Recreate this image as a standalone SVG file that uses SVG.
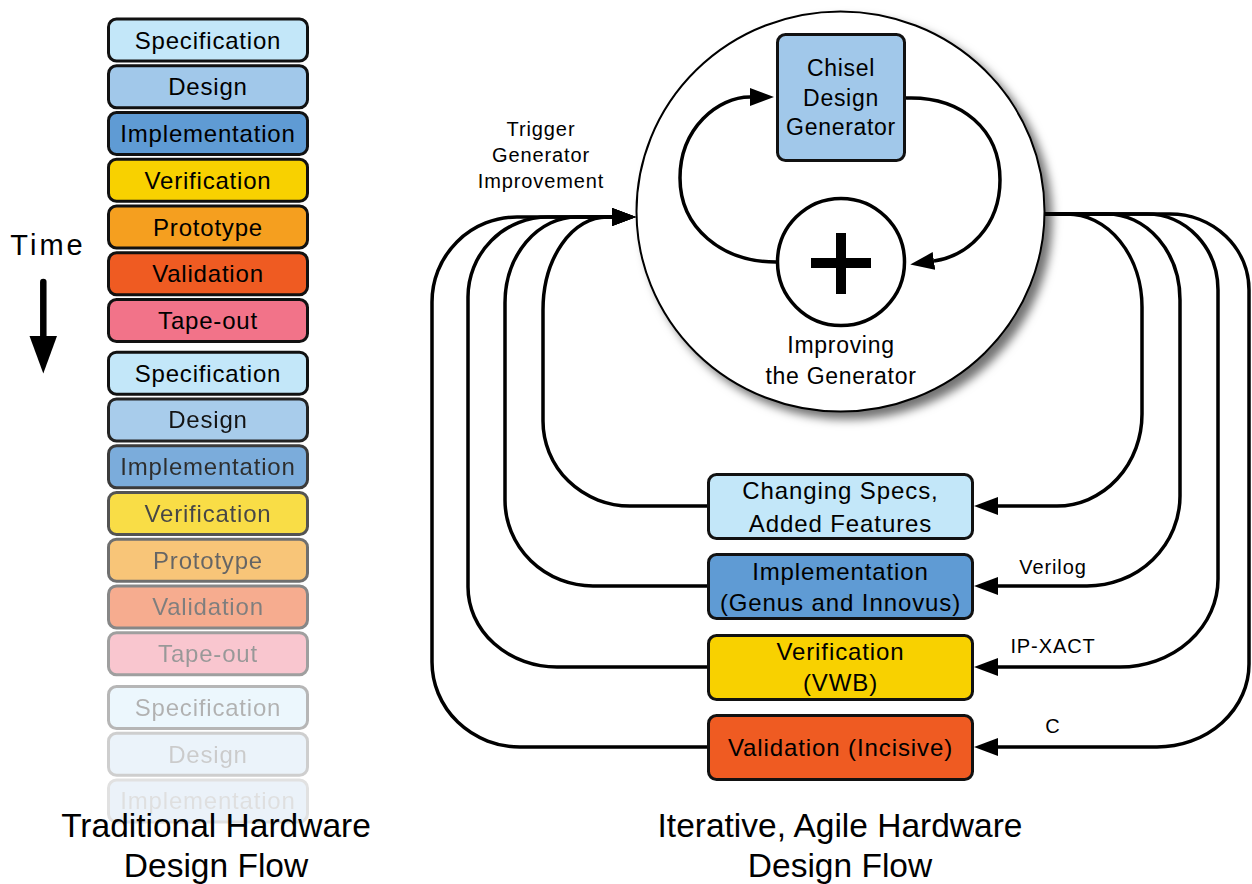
<svg xmlns="http://www.w3.org/2000/svg" width="1252" height="884" viewBox="0 0 1252 884">
<defs>
<style>
text{font-family:"Liberation Sans",Arial,Helvetica,sans-serif;fill:#000;text-anchor:middle}
.st text{font-size:24px;letter-spacing:0.8px}
.st rect{stroke:#111;stroke-width:3}
.box{stroke:#111;stroke-width:3}
.bt{font-size:24px;letter-spacing:0.9px}
.ct{font-size:23px;letter-spacing:0.7px}
.lb{font-size:20px;letter-spacing:0.9px}
.title{font-size:33.5px}
.conn{fill:none;stroke:#000;stroke-width:3.5}
.spec{fill:#c3e7f9}.des{fill:#a1c8ea}.impl{fill:#5f9bd4}.ver{fill:#f8d100}.pro{fill:#f59f1f}.val{fill:#ef5b22}.tape{fill:#f27389}
</style>
<marker id="ah" viewBox="0 0 24 18" refX="0" refY="9" markerWidth="24" markerHeight="18" markerUnits="userSpaceOnUse" orient="auto">
<path d="M0,0 L24,9 L0,18 z" fill="#000"/>
</marker>
<filter id="sh" x="-10%" y="-10%" width="125%" height="125%">
<feDropShadow dx="7" dy="7" stdDeviation="5" flood-color="#000" flood-opacity="0.55"/>
</filter>
</defs>
<rect width="1252" height="884" fill="#fff"/>

<!-- Traditional stack -->
<g id="traditional-stack" class="st">
<g id="s1-spec"><rect class="spec" x="108.5" y="19" width="199" height="42" rx="8"/><text x="208" y="48.5">Specification</text></g>
<g id="s1-design"><rect class="des" x="108.5" y="65.75" width="199" height="42" rx="8"/><text x="208" y="95.25">Design</text></g>
<g id="s1-impl"><rect class="impl" x="108.5" y="112.5" width="199" height="42" rx="8"/><text x="208" y="142">Implementation</text></g>
<g id="s1-ver"><rect class="ver" x="108.5" y="159.25" width="199" height="42" rx="8"/><text x="208" y="188.75">Verification</text></g>
<g id="s1-proto"><rect class="pro" x="108.5" y="206" width="199" height="42" rx="8"/><text x="208" y="235.5">Prototype</text></g>
<g id="s1-val"><rect class="val" x="108.5" y="252.75" width="199" height="42" rx="8"/><text x="208" y="282.25">Validation</text></g>
<g id="s1-tape"><rect class="tape" x="108.5" y="299.5" width="199" height="42" rx="8"/><text x="208" y="329">Tape-out</text></g>

<g id="s2-spec"><rect class="spec" x="108.5" y="352.2" width="199" height="42" rx="8"/><text x="208" y="381.7">Specification</text></g>
<g id="s2-design" opacity="0.92"><rect class="des" x="108.5" y="398.95" width="199" height="42" rx="8"/><text x="208" y="428.45">Design</text></g>
<g id="s2-impl" opacity="0.82"><rect class="impl" x="108.5" y="445.7" width="199" height="42" rx="8"/><text x="208" y="475.2">Implementation</text></g>
<g id="s2-ver" opacity="0.72"><rect class="ver" x="108.5" y="492.45" width="199" height="42" rx="8"/><text x="208" y="521.95">Verification</text></g>
<g id="s2-proto" opacity="0.6"><rect class="pro" x="108.5" y="539.2" width="199" height="42" rx="8"/><text x="208" y="568.7">Prototype</text></g>
<g id="s2-val" opacity="0.5"><rect class="val" x="108.5" y="585.95" width="199" height="42" rx="8"/><text x="208" y="615.45">Validation</text></g>
<g id="s2-tape" opacity="0.4"><rect class="tape" x="108.5" y="632.7" width="199" height="42" rx="8"/><text x="208" y="662.2">Tape-out</text></g>

<g id="s3-spec" opacity="0.3"><rect class="spec" x="108.5" y="686.5" width="199" height="42" rx="8"/><text x="208" y="716">Specification</text></g>
<g id="s3-design" opacity="0.2"><rect class="des" x="108.5" y="733.25" width="199" height="42" rx="8"/><text x="208" y="762.75">Design</text></g>
<g id="s3-impl" opacity="0.12"><rect class="impl" x="108.5" y="780" width="199" height="42" rx="8"/><text x="208" y="808.5">Implementation</text></g>
</g>

<!-- Time arrow -->
<g id="time">
<text x="48" y="255" style="font-size:29px;letter-spacing:3px">Time</text>
<line x1="43.3" y1="282" x2="43.3" y2="340" stroke="#000" stroke-width="6.5" stroke-linecap="round"/>
<path d="M29.5,336 L57,336 L43.3,373.5 z" fill="#000"/>
</g>

<g id="title-left">
<text class="title" x="216" y="837">Traditional Hardware</text>
<text class="title" x="216" y="877">Design Flow</text>
</g>

<!-- Big circle -->
<g id="generator-circle">
<ellipse cx="840.5" cy="211.5" rx="204" ry="200" fill="#fff" stroke="#000" stroke-width="2" filter="url(#sh)"/>
<text class="ct" x="841" y="353">Improving</text>
<text class="ct" x="841" y="383.5">the Generator</text>
</g>

<g id="chisel">
<rect class="box des" x="777.5" y="34.5" width="127" height="126" rx="8"/>
<text class="ct" x="841" y="76">Chisel</text>
<text class="ct" x="841" y="106">Design</text>
<text class="ct" x="841" y="135">Generator</text>
</g>

<g id="plus">
<circle cx="841" cy="262" r="63.5" fill="#fff" stroke="#000" stroke-width="3.5"/>
<rect x="811" y="258" width="60" height="10" fill="#000"/>
<rect x="836" y="233" width="10" height="61" fill="#000"/>
</g>

<g id="trigger-label">
<text class="lb" x="541" y="136">Trigger</text>
<text class="lb" x="541" y="162">Generator</text>
<text class="lb" x="541" y="188">Improvement</text>
</g>

<!-- Right-side nodes -->
<g id="node-specs">
<rect class="box spec" x="708.5" y="474.5" width="264" height="64" rx="8"/>
<text class="bt" x="840.5" y="498.5">Changing Specs,</text>
<text class="bt" x="840.5" y="531.5">Added Features</text>
</g>
<g id="node-impl">
<rect class="box impl" x="708.5" y="554.5" width="264" height="64" rx="8"/>
<text class="bt" x="840.5" y="580">Implementation</text>
<text class="bt" x="840.5" y="611">(Genus and Innovus)</text>
</g>
<g id="node-ver">
<rect class="box ver" x="708.5" y="635.5" width="264" height="64" rx="8"/>
<text class="bt" x="840.5" y="660">Verification</text>
<text class="bt" x="840.5" y="691">(VWB)</text>
</g>
<g id="node-val">
<rect class="box val" x="708.5" y="715.5" width="264" height="64" rx="8"/>
<text class="bt" x="840.5" y="756">Validation (Incisive)</text>
</g>

<g id="title-right">
<text class="title" x="840" y="837">Iterative, Agile Hardware</text>
<text class="title" x="840" y="877">Design Flow</text>
</g>

<!-- Connectors -->
<g id="connectors">
<path class="conn" d="M776,262 C722,262 680,228 680,178 C680,128 718,97 750,97" marker-end="url(#ah)"/>
<path class="conn" d="M906,98 C962,96 1000,130 1000,180 C1000,226 968,256 934,261" marker-end="url(#ah)"/>

<path class="conn" d="M707,506 H630 A87,85 0 0 1 543,421 V310 A64,93 0 0 1 607,217 H612" marker-end="url(#ah)"/>
<path class="conn" d="M707,586 H593 A88,86 0 0 1 505,500 V303 A72,86 0 0 1 577,217 H612" marker-end="url(#ah)"/>
<path class="conn" d="M707,667 H557 A89,80 0 0 1 468,587 V297 A80,80 0 0 1 548,217 H612" marker-end="url(#ah)"/>
<path class="conn" d="M707,747 H520 A88,85 0 0 1 432,662 V302 A85,85 0 0 1 517,217 H612" marker-end="url(#ah)"/>

<path class="conn" d="M1044,214 H1067 A75,93 0 0 1 1142,307 V414 A85,92 0 0 1 1057,506 H998" marker-end="url(#ah)"/>
<path class="conn" d="M1044,214 H1107 A73,86 0 0 1 1180,300 V496 A93,90 0 0 1 1087,586 H998" marker-end="url(#ah)"/>
<path class="conn" d="M1044,214 H1147 A71,76 0 0 1 1218,290 V579 A98,88 0 0 1 1120,667 H998" marker-end="url(#ah)"/>
<path class="conn" d="M1044,214 H1170 A79,76 0 0 1 1249,290 V664 A92,83 0 0 1 1157,747 H998" marker-end="url(#ah)"/>

<text class="lb" x="1053" y="574">Verilog</text>
<text class="lb" x="1053" y="653">IP-XACT</text>
<text class="lb" x="1053" y="733">C</text>
</g>
</svg>
